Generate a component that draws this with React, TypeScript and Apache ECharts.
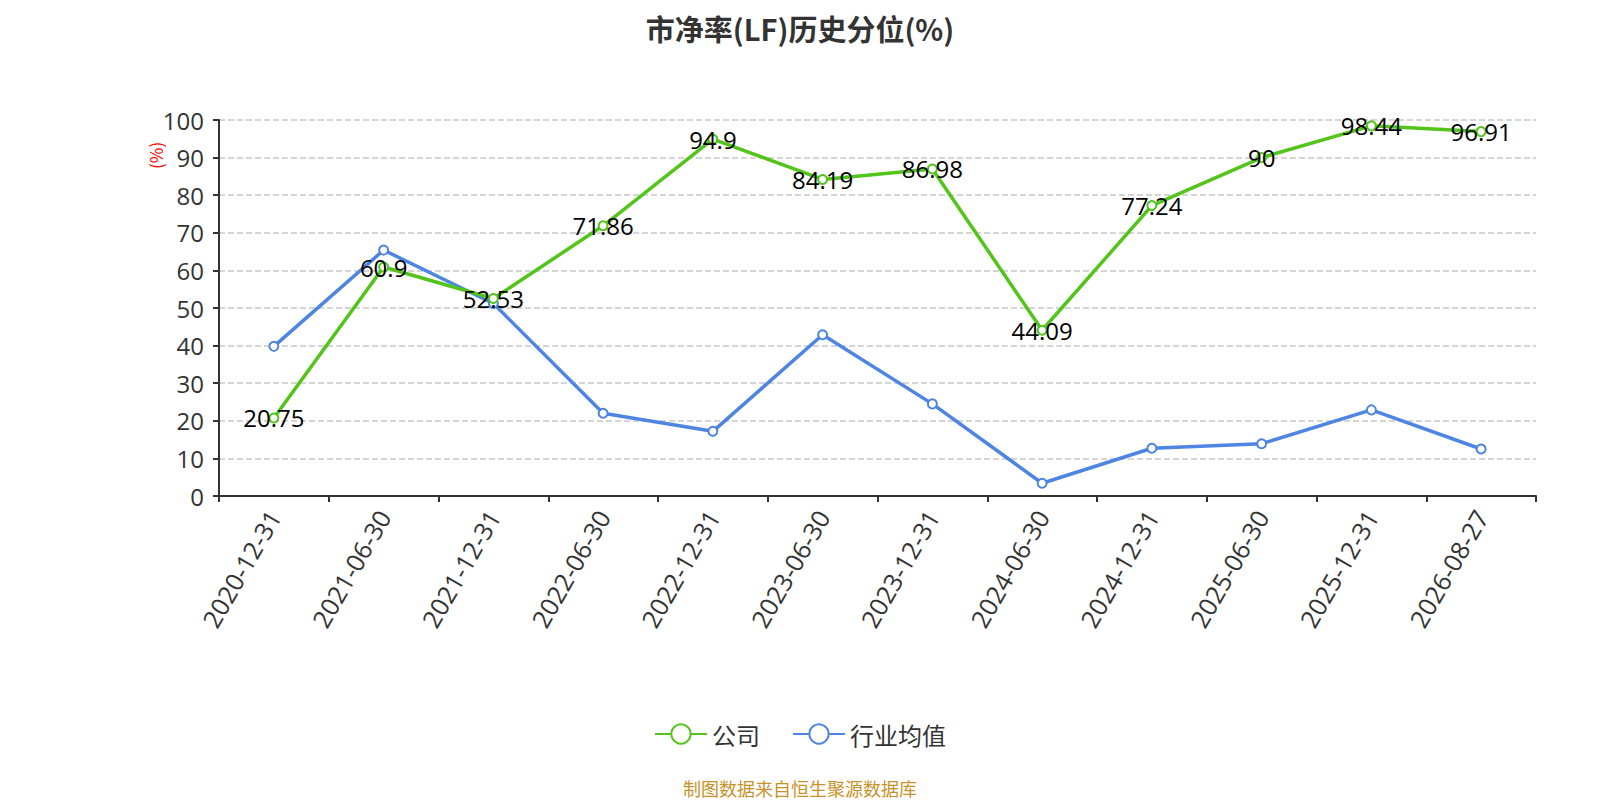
import React, { useEffect, useRef } from "react";
import * as echarts from "echarts";

const categories = [
  "2020-12-31", "2021-06-30", "2021-12-31", "2022-06-30", "2022-12-31", "2023-06-30",
  "2023-12-31", "2024-06-30", "2024-12-31", "2025-06-30", "2025-12-31", "2026-08-27",
];
const companyValues = [20.75, 60.9, 52.53, 71.86, 94.9, 84.19, 86.98, 44.09, 77.24, 90, 98.44, 96.91];
const industryValues = [39.8, 65.4, 51.2, 22.0, 17.2, 42.9, 24.5, 3.4, 12.7, 13.9, 22.9, 12.5];
const yTicks = { min: 0, max: 100, interval: 10 };

const FONT = "'Noto Sans CJK SC', 'Noto Sans', sans-serif";
const NUM_FONT = "'Open Sans', 'Noto Sans CJK SC', sans-serif";
const GREEN = "#52c41a";
const BLUE = "#4e84e2";

export default function App() {
  const ref = useRef<HTMLDivElement>(null);
  useEffect(() => {
    if (!ref.current) return;
    const chart = echarts.init(ref.current, null, { renderer: "svg" });
    chart.setOption({
      animation: false,
      textStyle: { fontFamily: FONT },
      title: {
        text: "市净率(LF)历史分位(%)",
        left: "center",
        top: 0,
        textStyle: { fontSize: 29, fontWeight: "bold", color: "#333", fontFamily: FONT },
      },
      grid: { left: 211, right: 56, top: 112, bottom: 304 },
      legend: {
        top: 709,
        left: "center",
        itemWidth: 52,
        itemHeight: 24,
        itemGap: 32,
        textStyle: { fontSize: 24, color: "#333", fontFamily: FONT },
        data: ["公司", "行业均值"],
      },
      graphic: [
        {
          type: "text",
          left: "center",
          top: 771,
          style: { text: "制图数据来自恒生聚源数据库", fill: "#c8922a", fontSize: 18, fontFamily: FONT },
        },
        {
          type: "text",
          x: 139,
          y: 161,
          rotation: Math.PI / 2,
          style: { text: "(%)", fill: "#ff0000", fontSize: 17, fontFamily: FONT },
        },
      ],
      xAxis: {
        type: "category",
        data: categories,
        boundaryGap: true,
        axisLine: { lineStyle: { color: "#333", width: 2 } },
        axisTick: { show: true, alignWithLabel: false, length: 6, lineStyle: { color: "#333", width: 2 } },
        axisLabel: { rotate: 60, fontSize: 25, color: "#333", margin: 16, interval: 0, fontFamily: NUM_FONT },
      },
      yAxis: {
        type: "value",
        min: yTicks.min,
        max: yTicks.max,
        interval: yTicks.interval,
        axisLine: { show: true, lineStyle: { color: "#333", width: 2 } },
        axisTick: { show: true, length: 6, lineStyle: { color: "#333", width: 2 } },
        axisLabel: { fontSize: 24, color: "#333", margin: 15, fontFamily: NUM_FONT },
        splitLine: { show: true, lineStyle: { type: "dashed", color: "#c8c8c8", width: 1.5 } },
      },
      series: [
        {
          name: "公司",
          type: "line",
          data: companyValues,
          color: GREEN,
          symbol: "emptyCircle",
          symbolSize: 9,
          lineStyle: { width: 3.5, color: GREEN },
          itemStyle: { color: GREEN, borderWidth: 2 },
          label: { show: true, position: "inside", fontSize: 24, color: "#000", fontFamily: NUM_FONT },
          z: 3,
        },
        {
          name: "行业均值",
          type: "line",
          data: industryValues,
          color: BLUE,
          symbol: "emptyCircle",
          symbolSize: 9,
          lineStyle: { width: 3.5, color: BLUE },
          itemStyle: { color: BLUE, borderWidth: 2 },
          label: { show: false },
          z: 2,
        },
      ],
    });
    return () => chart.dispose();
  }, []);
  return <div ref={ref} style={{ width: 1584, height: 792 }} />;
}
